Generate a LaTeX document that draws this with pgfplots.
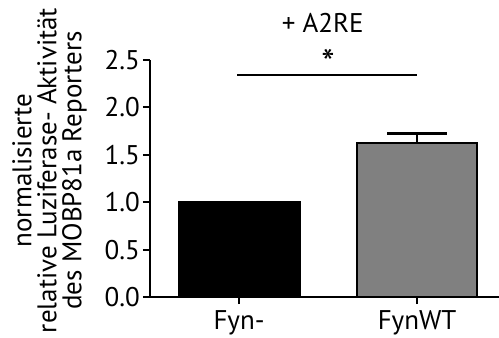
\documentclass[border=0pt]{standalone}
\usepackage{pgfplots}
\pgfplotsset{compat=1.18}
\usepackage{fontspec}
\setmainfont{PT Sans}
\definecolor{bargray}{RGB}{128,128,128}
\begin{document}
\begin{tikzpicture}[font=\fontsize{27}{25}\selectfont]
\begin{axis}[
  scale only axis,
  width=349pt, height=237pt,
  xmin=-0.5, xmax=1.46,
  ymin=0, ymax=2.5,
  axis x line*=bottom, axis y line*=left,
  axis line style={-, line width=2pt},
  ytick={0,0.5,1,1.5,2,2.5},
  yticklabel style={inner sep=3pt, /pgf/number format/fixed, /pgf/number format/fixed zerofill, /pgf/number format/precision=1},
  xtick={0,1}, xticklabels={Fyn-, FynWT},
  tick align=outside,
  major tick length=7pt,
  tick style={line width=2pt, black},
  /pgf/number format/assume math mode=true,
  ticklabel style={font=\fontsize{27}{25}\selectfont},
  xticklabel style={inner sep=2pt, yshift=-4pt},
  clip=false,
]
\addplot[ybar, bar width=121pt, bar shift=0pt, fill=black, draw=black, line width=2pt] coordinates {(0,1.0)};
\addplot[ybar, bar width=120pt, bar shift=0pt, fill=bargray, draw=black, line width=2pt,
  error bars/.cd, y dir=plus, y explicit, error mark=|,
  error bar style={line width=2.5pt, black},
  error mark options={line width=2.5pt, black, mark size=30pt}]
  coordinates {(1,1.62) +- (0,0.105)};
\addplot[black, line width=2pt, no marks] coordinates {(-0.01,2.34) (1,2.34)};
\node[font=\fontsize{38}{30}\selectfont, anchor=base] at (axis cs:0.5,2.33) {*};
\node[font=\fontsize{27}{25}\selectfont, anchor=base] at (axis cs:0.47,2.785) {+ A2RE};
\node[rotate=90, align=center, font=\fontsize{27}{25}\selectfont] at (axis description cs:-0.288,0.534)
  {normalisierte\\relative Luziferase- Aktivität\\des MOBP81a Reporters};
\end{axis}
\pgfresetboundingbox
\path (-150pt,-41pt) rectangle (349pt,297pt);
\end{tikzpicture}
\end{document}
